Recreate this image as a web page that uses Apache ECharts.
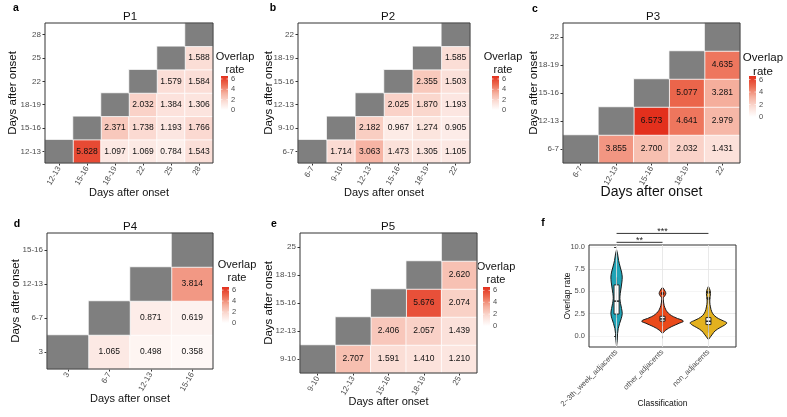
<!DOCTYPE html>
<html><head><meta charset="utf-8">
<script src="https://cdn.jsdelivr.net/npm/echarts@6/dist/echarts.min.js"></script>
<style>html,body{margin:0;padding:0;background:#fff}#c{width:787px;height:417px}</style>
</head><body><div id="c"></div>
<script>
// ---------------- DATA ----------------
// rows = y category (bottom -> top), columns = x category; 'NA' = same time point (grey tile), null = no tile
const p1Days = ['12-13','15-16','18-19','22','25','28'];
const p1Rates = [
  ['NA',5.828,1.097,1.069,0.784,1.543],
  [null,'NA',2.371,1.738,1.193,1.766],
  [null,null,'NA',2.032,1.384,1.306],
  [null,null,null,'NA',1.579,1.584],
  [null,null,null,null,'NA',1.588],
  [null,null,null,null,null,'NA']
];
const p2Days = ['6-7','9-10','12-13','15-16','18-19','22'];
const p2Rates = [
  ['NA',1.714,3.063,1.473,1.305,1.105],
  [null,'NA',2.182,0.967,1.274,0.905],
  [null,null,'NA',2.025,1.870,1.193],
  [null,null,null,'NA',2.355,1.503],
  [null,null,null,null,'NA',1.585],
  [null,null,null,null,null,'NA']
];
const p3Days = ['6-7','12-13','15-16','18-19','22'];
const p3Rates = [
  ['NA',3.855,2.700,2.032,1.431],
  [null,'NA',6.573,4.641,2.979],
  [null,null,'NA',5.077,3.281],
  [null,null,null,'NA',4.635],
  [null,null,null,null,'NA']
];
const p4Days = ['3','6-7','12-13','15-16'];
const p4Rates = [
  ['NA',1.065,0.498,0.358],
  [null,'NA',0.871,0.619],
  [null,null,'NA',3.814],
  [null,null,null,'NA']
];
const p5Days = ['9-10','12-13','15-16','18-19','25'];
const p5Rates = [
  ['NA',2.707,1.591,1.410,1.210],
  [null,'NA',2.406,2.057,1.439],
  [null,null,'NA',5.676,2.074],
  [null,null,null,'NA',2.620],
  [null,null,null,null,'NA']
];
const panelNames = ['P1','P2','P3','P4','P5'];
const panelLetters = ['a','b','c','d','e','f'];
const rateMax = 6.573;
const legendBreaks = [0,2,4,6];

// violin panel (f)
const classes = ['2~3th_week_adjacents','other_adjacents','non_adjacents'];
const classPos = [0,1,2];
// density profiles: [overlap rate, relative density]
const violin1 = [[9.66,0],[9.2,3],[8.47,6],[7.72,11],[7.16,15],[6.6,17],[6.04,16],[5.49,14],[4.74,11],[4.18,10],[3.62,12],[3.06,15],[2.5,17],[1.94,14],[1.38,9],[0.82,5],[0.26,3],[-0.49,2],[-1.16,0]];
const violin2 = [[5.45,0],[5.25,4],[5.0,8],[4.75,10],[4.5,7],[4.3,3],[4.1,2.5],[3.8,3],[3.4,5],[3.0,9],[2.7,14],[2.4,22],[2.15,33],[1.95,45],[1.75,60],[1.6,62],[1.45,52],[1.25,40],[1.05,28],[0.85,18],[0.65,10],[0.45,4],[0.28,0]];
const violin3 = [[5.56,0],[5.1,5],[4.74,6],[4.4,5],[3.8,4],[3.25,6],[2.7,10],[2.3,17],[1.94,30],[1.68,45],[1.46,55],[1.2,48],[0.93,35],[0.56,20],[0.19,12],[-0.11,6],[-0.41,0]];
// box stats: [lower whisker, Q1, median, Q3, upper whisker]
const boxStats = [[2.03,2.45,3.9,5.72,6.573],[1.1,1.65,1.9,2.2,3.06],[0.36,1.27,1.64,2.05,3.28]];
const outliers = [[1,4.75],[2,4.9],[2,4.2]];
const sigPairs = [[0,1,10.5,'**'],[0,2,11.5,'***']];
const yTicksF = [0,2.5,5,7.5,10];

// ---------------- STYLE / LAYOUT ----------------
const FONT = 'Arial, "Liberation Sans", Helvetica, sans-serif';
const rateColors = ['#FFFFFF','#FBDDD5','#F5AE9C','#EC6A50','#E3301D'];
const violinColors = ['#1FA3B6','#EA4A1B','#E3B11F'];
const layout = [
  {grid:{left:45,top:23,width:168,height:140}, title:[130,17], letter:[16,8], yGap:26.5, xGap:24, xFs:11, lgFs:11, lg:{tx:235,ty:57,bx:221,top:76,bottom:110}},
  {grid:{left:298,top:23,width:172,height:140}, title:[388,17], letter:[273,8], yGap:23.5, xGap:24, xFs:11, lgFs:11, lg:{tx:503,ty:57,bx:492,top:76,bottom:110}},
  {grid:{left:563,top:23,width:177,height:140}, title:[653,17], letter:[535,9], yGap:23.5, xGap:22, xFs:14, lgFs:11.5, lg:{tx:763,ty:58,bx:749,top:76,bottom:117}},
  {grid:{left:47,top:233,width:166,height:136}, title:[130,227], letter:[17,224], yGap:25.5, xGap:24, xFs:11, lgFs:11, lg:{tx:237,ty:265,bx:222,top:287,bottom:323}},
  {grid:{left:300,top:233,width:177,height:140}, title:[388,227], letter:[274,224], yGap:25.5, xGap:23, xFs:11, lgFs:11, lg:{tx:496,ty:267,bx:483,top:287,bottom:326}}
];
const fLayout = {grid:{left:589,top:245,width:147,height:102}, letter:[543,223]};

const days = [p1Days,p2Days,p3Days,p4Days,p5Days];
const rates = [p1Rates,p2Rates,p3Rates,p4Rates,p5Rates];

const grids = [], xAxes = [], yAxes = [], series = [], graphics = [], colored = [];
const gridBase = {show:true, backgroundColor:'transparent', borderColor:'#333', borderWidth:1, z:5};

days.forEach((d, i) => {
  const L = layout[i];
  grids.push(Object.assign({}, gridBase, L.grid));
  xAxes.push({type:'category', gridIndex:i, data:d, axisLine:{show:false},
    axisTick:{show:true, alignWithLabel:true, length:2.5, lineStyle:{color:'#333'}},
    axisLabel:{rotate:60, fontSize:8, color:'#4D4D4D', margin:4, interval:0, fontFamily:FONT},
    splitLine:{show:false}, name:'Days after onset', nameLocation:'middle', nameGap:L.xGap, nameMoveOverlap:false,
    nameTextStyle:{fontSize:L.xFs, color:'#111', fontFamily:FONT}});
  yAxes.push({type:'category', gridIndex:i, data:d, axisLine:{show:false},
    axisTick:{show:true, alignWithLabel:true, length:2.5, lineStyle:{color:'#333'}},
    axisLabel:{fontSize:8, color:'#4D4D4D', margin:4, interval:0, fontFamily:FONT},
    splitLine:{show:false}, name:'Days after onset', nameLocation:'middle', nameGap:L.yGap, nameMoveOverlap:false,
    nameTextStyle:{fontSize:11.5, color:'#111', fontFamily:FONT}});
  const vals = [], na = [];
  rates[i].forEach((row, yi) => row.forEach((v, xi) => {
    if (v === 'NA') na.push([xi, yi, 0]);
    else if (v !== null) vals.push([xi, yi, v]);
  }));
  colored.push(series.length);
  series.push({type:'heatmap', xAxisIndex:i, yAxisIndex:i, data:vals,
    itemStyle:{borderColor:'#fff', borderWidth:0.8},
    label:{show:true, fontSize:8.5, color:'#111', fontFamily:FONT, formatter:p => p.data[2].toFixed(3)},
    emphasis:{disabled:true}});
  series.push({type:'heatmap', xAxisIndex:i, yAxisIndex:i, data:na,
    itemStyle:{color:'#7F7F7F', borderColor:'#fff', borderWidth:0.8}, emphasis:{disabled:true}});
  graphics.push({type:'text', x:L.title[0], y:L.title[1], style:{text:panelNames[i], fontSize:11.5, fontFamily:FONT, fill:'#111', align:'center', verticalAlign:'middle'}});
  graphics.push({type:'text', x:L.letter[0], y:L.letter[1], style:{text:panelLetters[i], fontSize:10.5, fontWeight:'bold', fontFamily:FONT, fill:'#000', align:'center', verticalAlign:'middle'}});
  const g = L.lg, bw = 7, h = g.bottom - g.top;
  graphics.push({type:'text', x:g.tx, y:g.ty, style:{text:'Overlap', fontSize:L.lgFs, fontFamily:FONT, fill:'#111', align:'center', verticalAlign:'middle'}});
  graphics.push({type:'text', x:g.tx, y:g.ty+L.lgFs*1.18, style:{text:'rate', fontSize:L.lgFs, fontFamily:FONT, fill:'#111', align:'center', verticalAlign:'middle'}});
  graphics.push({type:'rect', shape:{x:g.bx, y:g.top, width:bw, height:h},
    style:{fill:{type:'linear', x:0, y:0, x2:0, y2:1, colorStops: rateColors.slice().reverse().map((c,k)=>({offset:k/(rateColors.length-1), color:c}))}}});
  legendBreaks.forEach(b => {
    const yy = g.bottom - b / rateMax * h;
    graphics.push({type:'line', shape:{x1:g.bx, y1:yy, x2:g.bx+1.5, y2:yy}, style:{stroke:'#fff', lineWidth:0.6}});
    graphics.push({type:'line', shape:{x1:g.bx+bw-1.5, y1:yy, x2:g.bx+bw, y2:yy}, style:{stroke:'#fff', lineWidth:0.6}});
    graphics.push({type:'text', x:g.bx+bw+3, y:yy, style:{text:String(b), fontSize:7.5, fontFamily:FONT, fill:'#4D4D4D', align:'left', verticalAlign:'middle'}});
  });
});

// ---------------- panel f ----------------
const fi = 5;
grids.push(Object.assign({}, gridBase, fLayout.grid));
graphics.push({type:'text', x:fLayout.letter[0], y:fLayout.letter[1], style:{text:panelLetters[5], fontSize:10.5, fontWeight:'bold', fontFamily:FONT, fill:'#000', align:'center', verticalAlign:'middle'}});
const isInt = v => Math.abs(v - Math.round(v)) < 1e-6;
xAxes.push({type:'value', gridIndex:fi, min:-0.6, max:2.6, interval:0.2, axisLine:{show:false},
  axisTick:{show:true, length:2.5, lineStyle:{color:'#333'}, customValues:classPos},
  axisLabel:{rotate:45, fontSize:7.5, color:'#4D4D4D', margin:4, fontFamily:FONT, customValues:classPos,
    showMinLabel:true, showMaxLabel:true,
    formatter: v => isInt(v) && v >= 0 && v <= 2 ? classes[Math.round(v)] : ''},
  splitLine:{show:false}, name:'Classification', nameLocation:'middle', nameGap:52, nameMoveOverlap:false,
  nameTextStyle:{fontSize:8.5, color:'#111', fontFamily:FONT}});
yAxes.push({type:'value', gridIndex:fi, min:-1.25, max:10.2, interval:1.25, axisLine:{show:false},
  axisTick:{show:true, length:2.5, lineStyle:{color:'#333'}, customValues:yTicksF},
  axisLabel:{fontSize:7.5, color:'#4D4D4D', margin:4, fontFamily:FONT, customValues:yTicksF,
    formatter: v => yTicksF.some(t => Math.abs(t - v) < 1e-6) ? v.toFixed(1) : ''},
  splitLine:{show:true, lineStyle:{color:['#F3F3F3','#E3E3E3'], width:0.8}},
  name:'Overlap rate', nameLocation:'middle', nameGap:16.5, nameMoveOverlap:false,
  nameTextStyle:{fontSize:8.5, color:'#111', fontFamily:FONT}});

// vertical major grid lines at categories
series.push({type:'line', xAxisIndex:fi, yAxisIndex:fi, data:[], z:1, silent:true,
  markLine:{silent:true, symbol:['none','none'], label:{show:false}, lineStyle:{color:'#E3E3E3', type:'solid', width:0.8},
    data: classPos.map(p => ({xAxis:p}))}});

const profiles = [violin1, violin2, violin3];
const maxDens = Math.max(...profiles.map(p => Math.max(...p.map(q => q[1]))));
series.push({type:'custom', xAxisIndex:fi, yAxisIndex:fi, z:3, silent:true,
  data: classPos.map(k => [k, boxStats[k][2]]),
  encode:{x:0, y:1},
  renderItem: (params, api) => {
    const k = api.value(0);
    const band = api.size([1,0])[0];
    const sc = band * 0.45 / maxDens;
    const prof = profiles[k];
    const right = prof.map(([y,d]) => { const c = api.coord([k,y]); return [c[0] + d*sc, c[1]]; });
    const left = prof.map(([y,d]) => { const c = api.coord([k,y]); return [c[0] - d*sc, c[1]]; }).reverse();
    const s = boxStats[k];
    const cx = api.coord([k, 0])[0];
    const hw = band * 0.055;
    const yLo = api.coord([k, s[0]])[1], yQ1 = api.coord([k, s[1]])[1], yMed = api.coord([k, s[2]])[1], yQ3 = api.coord([k, s[3]])[1], yHi = api.coord([k, s[4]])[1];
    return {type:'group', children:[
      {type:'polygon', shape:{points:right.concat(left), smooth:0.35}, style:{fill:violinColors[k], stroke:'#1a1a1a', lineWidth:1}},
      {type:'line', shape:{x1:cx, y1:yLo, x2:cx, y2:yHi}, style:{stroke:'#1a1a1a', lineWidth:1}},
      {type:'rect', shape:{x:cx-hw, y:yQ3, width:2*hw, height:yQ1-yQ3}, style:{fill:'#fff', stroke:'#1a1a1a', lineWidth:0.9}},
      {type:'line', shape:{x1:cx-hw, y1:yMed, x2:cx+hw, y2:yMed}, style:{stroke:'#1a1a1a', lineWidth:1.4}}
    ]};
  }});
series.push({type:'scatter', xAxisIndex:fi, yAxisIndex:fi, z:4, silent:true, data:outliers, symbolSize:3.5, itemStyle:{color:'#111'}});
series.push({type:'custom', xAxisIndex:fi, yAxisIndex:fi, z:6, silent:true, clip:false,
  data: sigPairs, encode:{x:0, y:2},
  renderItem: (params, api) => {
    const a = api.coord([api.value(0), api.value(2)]);
    const b = api.coord([api.value(1), api.value(2)]);
    return {type:'group', children:[
      {type:'line', shape:{x1:a[0], y1:a[1], x2:b[0], y2:a[1]}, style:{stroke:'#333', lineWidth:1}},
      {type:'text', x:(a[0]+b[0])/2, y:a[1]-2, style:{text:sigPairs[params.dataIndex][3], fontSize:9, fontFamily:FONT, fill:'#222', align:'center', verticalAlign:'middle'}}
    ]};
  }});

const chart = echarts.init(document.getElementById('c'), null, {renderer:'canvas'});
chart.setOption({
  animation:false,
  backgroundColor:'#fff',
  textStyle:{fontFamily:FONT},
  grid:grids, xAxis:xAxes, yAxis:yAxes,
  visualMap:{type:'continuous', show:false, seriesIndex:colored, dimension:2, min:0, max:rateMax, inRange:{color:rateColors}},
  graphic:graphics,
  series:series
});
</script></body></html>
